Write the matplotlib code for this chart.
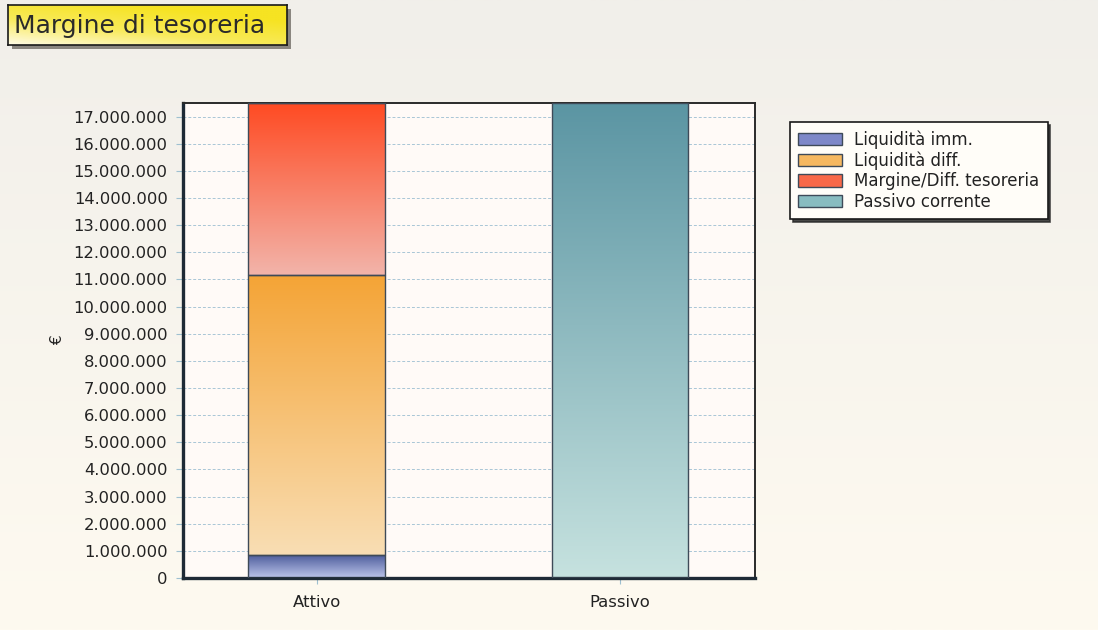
import numpy as np
import matplotlib.pyplot as plt
from matplotlib.colors import LinearSegmentedColormap
from matplotlib.patches import Rectangle
from matplotlib.ticker import FuncFormatter, MultipleLocator

# Dati (euro)
categories = ['Attivo', 'Passivo']
liquidita_imm = [850000, 0]
liquidita_diff = [10300000, 0]
margine_tesoreria = [6350000, 0]
passivo_corrente = [0, 17500000]

series_names = ['Liquidità imm.', 'Liquidità diff.', 'Margine/Diff. tesoreria', 'Passivo corrente']
# colori sfumati (alto, basso) e colore pieno per la legenda
grad_colors = [('#4a5a9a', '#bcc4ea'), ('#f4a436', '#f9deb4'),
               ('#ff4a22', '#f2b4aa'), ('#5b95a3', '#c6e2df')]
legend_colors = ['#7e88c8', '#f6b860', '#f86848', '#88bcc0']


def vgrad(ax, patch, top, bottom):
    """Riempie una barra con una sfumatura verticale."""
    x0, y0 = patch.get_x(), patch.get_y()
    w, h = patch.get_width(), patch.get_height()
    if h <= 0:
        return
    cmap = LinearSegmentedColormap.from_list('g', [bottom, top])
    grad = np.linspace(0, 1, 256).reshape(-1, 1)
    im = ax.imshow(grad, cmap=cmap, aspect='auto', origin='lower',
                   extent=(x0, x0 + w, y0, y0 + h), zorder=2)
    im.set_clip_path(patch)


def main():
    plt.rcParams['font.family'] = ['DejaVu Sans']
    fig = plt.figure(figsize=(10.98, 6.3), dpi=100)

    # sfondo della figura
    bg = fig.add_axes([0, 0, 1, 1], zorder=-10)
    bg_cmap = LinearSegmentedColormap.from_list('bg', ['#fefaf0', '#f1efea'])
    bg.imshow(np.linspace(0, 1, 256).reshape(-1, 1), cmap=bg_cmap, aspect='auto',
              origin='lower', extent=(0, 1, 0, 1))
    bg.set_xlim(0, 1)
    bg.set_ylim(0, 1)
    bg.axis('off')

    # riquadro del titolo
    W, H = 1098, 630
    shadow = Rectangle((12 / W, 1 - 49 / H), 279 / W, 40 / H, transform=fig.transFigure,
                       facecolor='#8a8680', edgecolor='none', zorder=-5)
    fig.patches.append(shadow)
    tax = fig.add_axes([8 / W, 1 - 45 / H, 279 / W, 40 / H])
    gx, gy = np.meshgrid(np.linspace(0, 1, 200), np.linspace(0, 1, 60))
    tval = np.clip(0.55 * gx + 0.75 * gy, 0, 1)
    t_cmap = LinearSegmentedColormap.from_list('t', ['#fffbe6', '#f8ea5a', '#f6e322'])
    tax.imshow(tval, cmap=t_cmap, aspect='auto', origin='lower', extent=(0, 1, 0, 1))
    tax.set_xticks([])
    tax.set_yticks([])
    for s in tax.spines.values():
        s.set_color('#1a1a1a')
        s.set_linewidth(1.2)
    tax.text(0.02, 0.47, 'Margine di tesoreria', fontsize=18, color='#2a2a2a',
             va='center', ha='left', transform=tax.transAxes)

    # grafico
    ax = fig.add_axes([183 / W, 1 - 578 / H, 572 / W, 475 / H])
    ax.set_facecolor('#fffaf7')
    x = np.arange(len(categories))
    width = 0.45
    edge = '#3e4a58'

    bottoms = np.zeros(len(categories))
    stacks = [liquidita_imm, liquidita_diff, margine_tesoreria, passivo_corrente]
    for vals, (top, bottom) in zip(stacks, grad_colors):
        bars = ax.bar(x, vals, width, bottom=bottoms, facecolor='none',
                      edgecolor=edge, linewidth=1.0, zorder=3)
        for b in bars:
            vgrad(ax, b, top, bottom)
        bottoms = bottoms + np.array(vals)

    ax.set_xlim(-0.44, 1.445)
    ax.set_ylim(0, max(bottoms))
    ax.yaxis.set_major_locator(MultipleLocator(1000000))
    ax.yaxis.set_major_formatter(FuncFormatter(lambda v, p: f'{int(v):,}'.replace(',', '.')))
    ax.set_xticks(x)
    ax.set_xticklabels(categories)
    ax.grid(axis='y', color='#a9c6d6', linestyle=(0, (3, 2)), linewidth=0.7, zorder=1)
    ax.set_axisbelow(True)
    ax.tick_params(axis='y', labelsize=11.8, colors='#9ec0d0', labelcolor='#222222',
                   length=5, width=0.8, pad=6)
    ax.tick_params(axis='x', labelsize=11.8, colors='#9ec0d0', labelcolor='#222222',
                   length=4, width=0.8, pad=8)
    ax.set_ylabel('€', fontsize=11, color='#222222', labelpad=6)

    for side in ['left', 'bottom']:
        ax.spines[side].set_color('#1e2a36')
        ax.spines[side].set_linewidth(2.4)
    for side in ['top', 'right']:
        ax.spines[side].set_color('#2a2a2a')
        ax.spines[side].set_linewidth(1.4)

    # legenda
    handles = [Rectangle((0, 0), 1, 1, facecolor=c, edgecolor='#3e4a58', linewidth=1.0)
               for c in legend_colors]
    leg = fig.legend(handles, series_names, loc='upper left',
                     bbox_to_anchor=(790 / W, 1 - 122 / H), fontsize=12,
                     frameon=True, fancybox=False,
                     shadow={'color': '#2a2a2a', 'alpha': 0.85},
                     handlelength=2.6, handleheight=0.75, labelspacing=0.15,
                     handletextpad=0.75, borderpad=0.5, borderaxespad=0)
    leg.get_frame().set_edgecolor('#1a1a1a')
    leg.get_frame().set_linewidth(1.2)
    leg.get_frame().set_facecolor('#fffdf8')
    for t in leg.get_texts():
        t.set_color('#222222')

    fig.savefig('out.png', dpi=100)


if __name__ == '__main__':
    main()
